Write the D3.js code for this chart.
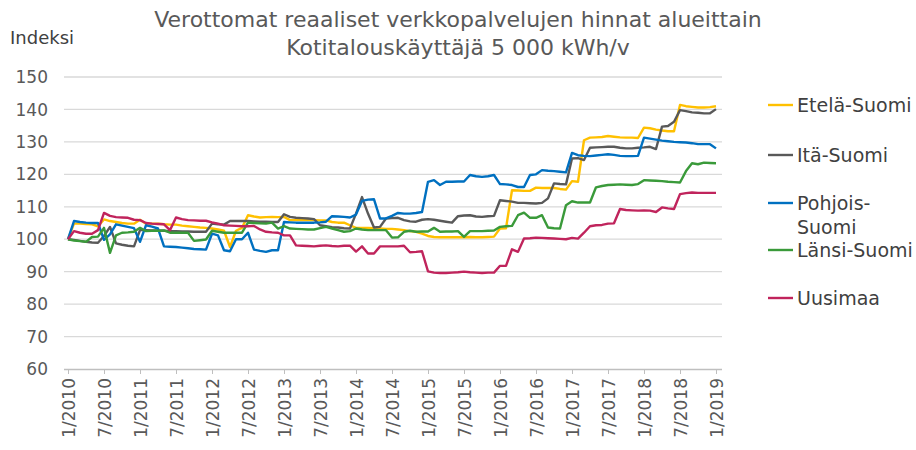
<!DOCTYPE html>
<html>
<head>
<meta charset="utf-8">
<script src="https://cdn.jsdelivr.net/npm/d3@7"></script>
<style>
  body { margin: 0; background: #fff; }
  text { font-family: "DejaVu Sans", Verdana, sans-serif; }
</style>
</head>
<body>
<div id="chart"></div>
<script>
// monthly index, 1/2010 .. 1/2019
var regions = ["Etelä-Suomi", "Itä-Suomi", "Pohjois-Suomi", "Länsi-Suomi", "Uusimaa"];
var tickLabels = ["1/2010", "7/2010", "1/2011", "7/2011", "1/2012", "7/2012", "1/2013", "7/2013", "1/2014",
                  "7/2014", "1/2015", "7/2015", "1/2016", "7/2016", "1/2017", "7/2017", "1/2018", "7/2018", "1/2019"];
var yTicks = [60, 70, 80, 90, 100, 110, 120, 130, 140, 150];

var etela = [100, 104.8, 104.8, 104.7, 104.6, 104.0, 106.1, 105.6, 105.3, 105.0, 104.8, 104.8,
  106.0, 104.8, 104.8, 104.8, 104.6, 104.5, 104.5, 104.2, 104.0, 103.8, 103.6, 103.5,
  103.3, 103.0, 102.6, 97.6, 102.6, 103.5, 107.4, 107.0, 106.7, 106.8, 106.9, 106.8,
  106.9, 105.9, 105.9, 105.9, 105.9, 105.9, 105.8, 105.8, 105.3, 105.1, 105.1, 104.3,
  103.5, 103.5, 103.5, 103.4, 103.3, 103.2, 103.2, 103.0, 102.8, 102.5, 102.3, 101.7,
  101.0, 100.7, 100.6, 100.6, 100.6, 100.6, 100.6, 100.7, 100.6, 100.6, 100.7, 100.8,
  103.3, 103.4, 115.1, 115.0, 114.9, 114.9, 115.9, 115.8, 115.8, 115.8, 115.5, 115.3,
  117.9, 117.7, 130.5, 131.3, 131.4, 131.5, 131.8, 131.6, 131.4, 131.3, 131.3, 131.2,
  134.4, 134.2, 133.8, 133.5, 133.3, 133.3, 141.4, 141.0, 140.8, 140.6, 140.6, 140.7,
  141.0];
var ita = [100, 99.8, 99.5, 99.2, 99.0, 98.9, 101.0, 103.8, 98.7, 98.3, 98.0, 97.8,
  102.8, 102.8, 102.7, 102.7, 102.6, 102.5, 102.5, 102.4, 102.4, 102.3, 102.3, 102.3,
  104.8, 104.6, 104.5, 105.6, 105.6, 105.6, 105.6, 105.5, 105.4, 105.4, 105.3, 105.3,
  107.7, 106.9, 106.6, 106.5, 106.4, 106.2, 104.3, 104.0, 103.7, 103.6, 103.4, 103.3,
  107.9, 113.0, 107.9, 103.6, 103.8, 106.4, 106.5, 106.6, 105.9, 105.5, 105.4, 106.0,
  106.2, 106.0, 105.7, 105.4, 105.1, 107.1, 107.3, 107.4, 107.0, 106.9, 107.1, 107.2,
  112.0, 111.8, 111.6, 111.2, 111.2, 111.1, 111.0, 111.2, 112.6, 117.2, 117.0, 116.9,
  124.9, 125.0, 124.4, 128.2, 128.3, 128.4, 128.5, 128.5, 128.2, 128.0, 128.0, 128.2,
  128.3, 128.5, 127.8, 134.7, 134.9, 136.2, 139.8, 139.5, 139.1, 139.0, 138.8, 138.8,
  140.1];
var pohjois = [100, 105.6, 105.3, 105.1, 105.0, 105.0, 99.8, 101.5, 104.6, 104.2, 103.8, 103.4,
  99.2, 104.3, 103.9, 103.3, 97.8, 97.7, 97.6, 97.4, 97.2, 97.0, 96.9, 96.8,
  101.7, 101.2, 96.6, 96.3, 100.0, 100.0, 102.0, 96.8, 96.4, 96.1, 96.6, 96.6,
  105.3, 105.2, 105.1, 105.1, 105.1, 105.1, 105.2, 105.4, 107.1, 107.0, 106.9, 106.7,
  107.6, 111.8, 112.2, 112.3, 106.4, 106.4, 107.2, 108.1, 107.9, 107.9, 108.1, 108.4,
  117.7, 118.2, 116.7, 117.7, 117.7, 117.8, 117.8, 119.8, 119.4, 119.2, 119.4, 119.8,
  117.0, 116.9, 116.7, 116.1, 116.1, 119.8, 120.0, 121.3, 121.1, 121.0, 120.8, 120.6,
  126.6, 125.9, 125.7, 125.6, 125.8, 126.0, 126.2, 126.0, 125.7, 125.6, 125.6, 125.7,
  131.3, 131.0, 130.7, 130.4, 130.2, 130.0, 129.9, 129.8, 129.6, 129.3, 129.3, 129.3,
  128.0];
var lansi = [100, 99.6, 99.4, 99.2, 100.7, 100.8, 103.5, 95.8, 101.2, 102.0, 102.1, 102.3,
  103.5, 102.5, 102.6, 102.6, 102.7, 102.0, 102.0, 102.0, 102.0, 99.5, 99.7, 99.9,
  102.6, 102.3, 102.0, 102.0, 102.0, 102.0, 105.1, 105.0, 104.9, 104.8, 105.1, 103.3,
  104.0, 103.3, 103.2, 103.1, 103.0, 103.0, 103.4, 103.8, 103.3, 102.8, 102.3, 102.5,
  103.3, 103.0, 102.8, 102.8, 102.8, 102.8, 100.5, 100.6, 102.3, 102.6, 102.3, 102.4,
  102.4, 103.5, 102.3, 102.4, 102.4, 102.5, 100.7, 102.5, 102.5, 102.5, 102.6, 102.7,
  103.8, 104.0, 104.1, 107.4, 108.2, 106.6, 106.6, 107.4, 103.6, 103.4, 103.3, 110.5,
  111.7, 111.3, 111.3, 111.3, 116.0, 116.4, 116.7, 116.8, 116.9, 116.8, 116.7, 117.0,
  118.2, 118.1, 118.0, 117.9, 117.7, 117.6, 117.5, 121.0, 123.4, 123.1, 123.6, 123.5,
  123.4];
var uusimaa = [100, 102.5, 102.0, 101.7, 101.7, 102.8, 108.1, 107.2, 106.8, 106.7, 106.6, 106.0,
  105.9, 105.0, 104.8, 104.7, 104.6, 102.8, 106.7, 106.2, 105.9, 105.8, 105.7, 105.7,
  105.2, 104.8, 104.3, 104.2, 104.1, 104.0, 104.0, 104.1, 103.0, 102.3, 102.1, 102.0,
  101.2, 101.2, 98.1, 98.0, 97.9, 97.8, 98.0, 98.1, 97.9, 97.8, 98.0, 98.0,
  96.2, 97.8, 95.6, 95.6, 97.8, 97.8, 97.8, 97.8, 98.0, 96.0, 96.1, 96.3,
  90.1, 89.7, 89.6, 89.6, 89.7, 89.8, 90.0, 89.8, 89.7, 89.6, 89.7, 89.7,
  91.8, 91.8, 96.9, 96.1, 100.2, 100.3, 100.5, 100.4, 100.3, 100.2, 100.1, 100.0,
  100.4, 100.2, 102.0, 104.0, 104.3, 104.4, 104.8, 104.9, 109.3, 109.0, 108.9, 108.8,
  108.9, 108.8, 108.4, 109.8, 109.5, 109.3, 113.9, 114.2, 114.4, 114.3, 114.3, 114.3,
  114.3];

var seriesValues = [etela, ita, pohjois, lansi, uusimaa];
var colours = ["#FFC000", "#595959", "#0070C0", "#3A9A3A", "#C0245C"];

var W = 916, H = 450;
var x = d3.scaleLinear().domain([0, 108]).range([68, 716]);
var y = d3.scaleLinear().domain([60, 150]).range([369, 77]);

var svg = d3.select("#chart").append("svg")
  .attr("width", W)
  .attr("height", H);

// title
svg.append("text")
  .attr("x", 458).attr("y", 27)
  .attr("text-anchor", "middle")
  .attr("font-size", "22px")
  .attr("fill", "#595959")
  .text("Verottomat reaaliset verkkopalvelujen hinnat alueittain");
svg.append("text")
  .attr("x", 458).attr("y", 55)
  .attr("text-anchor", "middle")
  .attr("font-size", "22px")
  .attr("fill", "#595959")
  .text("Kotitalouskäyttäjä 5 000 kWh/v");

svg.append("text")
  .attr("x", 10).attr("y", 44)
  .attr("font-size", "18px")
  .attr("fill", "#404040")
  .text("Indeksi");

// gridlines + y labels
svg.append("g").selectAll("line")
  .data(yTicks.filter(function(d) { return d > 60; }))
  .enter().append("line")
  .attr("x1", 64).attr("x2", 722)
  .attr("y1", function(d) { return y(d); })
  .attr("y2", function(d) { return y(d); })
  .attr("stroke", "#D9D9D9")
  .attr("stroke-width", 1.3);

svg.append("g").selectAll("text")
  .data(yTicks)
  .enter().append("text")
  .attr("x", 48)
  .attr("y", function(d) { return y(d); })
  .attr("dy", "0.36em")
  .attr("text-anchor", "end")
  .attr("font-size", "17px")
  .attr("fill", "#595959")
  .text(function(d) { return d; });

// x axis
var xAxis = d3.axisBottom(x)
  .tickValues(d3.range(0, 109, 6))
  .tickSize(5)
  .tickFormat(function(d, i) { return tickLabels[i]; });

var gx = svg.append("g")
  .attr("transform", "translate(0," + y(60) + ")")
  .call(xAxis);
gx.select(".domain").attr("d", "M64,0.5H722").attr("stroke", "#BFBFBF").attr("stroke-width", 1.3);
gx.selectAll(".tick line").attr("stroke", "#BFBFBF");
gx.selectAll(".tick text")
  .attr("transform", "rotate(-90)")
  .attr("text-anchor", "end")
  .attr("x", -9).attr("y", 0).attr("dy", "0.36em")
  .attr("font-size", "17px")
  .attr("font-family", "DejaVu Sans, Verdana, sans-serif")
  .attr("fill", "#595959");

// lines
var line = d3.line()
  .x(function(d, i) { return x(i); })
  .y(function(d) { return y(d); });

svg.append("g").selectAll("path")
  .data(seriesValues)
  .enter().append("path")
  .attr("d", line)
  .attr("fill", "none")
  .attr("stroke", function(d, i) { return colours[i]; })
  .attr("stroke-width", 2.4)
  .attr("stroke-linejoin", "round");

// legend
var legendY = [105, 155, 203, 250, 298];
var legend = svg.append("g").selectAll("g")
  .data(regions)
  .enter().append("g")
  .attr("transform", function(d, i) { return "translate(768," + legendY[i] + ")"; });

legend.append("line")
  .attr("x1", 0).attr("x2", 25)
  .attr("stroke", function(d, i) { return colours[i]; })
  .attr("stroke-width", 2.4);

legend.append("text")
  .attr("x", 29)
  .attr("font-size", "19px")
  .attr("fill", "#404040")
  .each(function(d) {
    var parts = d === "Pohjois-Suomi" ? ["Pohjois-", "Suomi"] : [d];
    var t = d3.select(this);
    parts.forEach(function(p, k) {
      t.append("tspan").attr("x", 29).attr("dy", k === 0 ? "0.36em" : "1.25em").text(p);
    });
  });
</script>
</body>
</html>
